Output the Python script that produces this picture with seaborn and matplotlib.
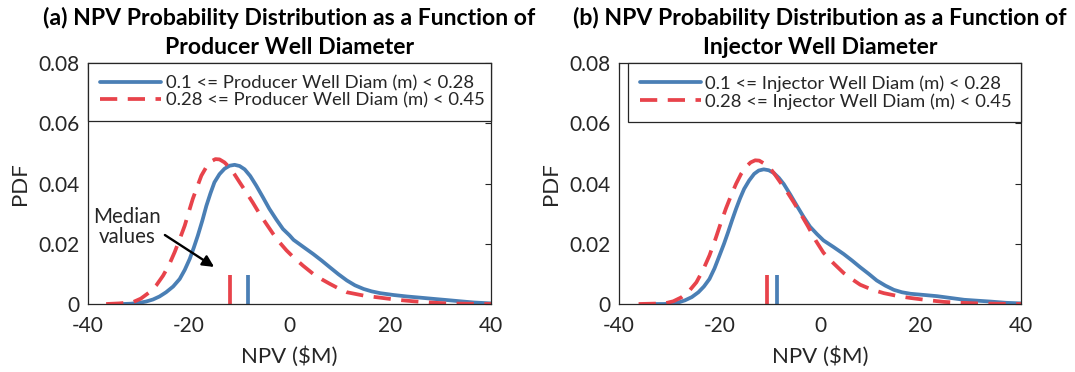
import numpy as np
import pandas as pd
import matplotlib
matplotlib.use("Agg")
import matplotlib.pyplot as plt
import seaborn as sns

# ---------------- data ----------------
prod_small_x = [-33.1, -31.5, -29.8, -28.5, -27.1, -25.8, -24.5, -23.1, -21.8, -20.8, -19.8, -19.0,
                -18.2, -17.3, -16.5, -15.7, -14.9, -13.9, -12.9, -11.9, -10.9, -9.9, -8.9, -7.8,
                -6.6, -5.3, -4.0, -2.6, -1.3, 0.0, 0.8, 2.7, 4.7, 6.4, 8.0, 9.7, 11.4, 13.0, 14.7,
                16.3, 18.0, 20.6, 23.3, 26.0, 28.6, 31.3, 33.9, 36.6, 40.0]
prod_small_y = [0.0, 0.0001, 0.0004, 0.0008, 0.0015, 0.0025, 0.0039, 0.0058, 0.0083, 0.0113, 0.0150,
                0.0187, 0.0227, 0.0277, 0.0326, 0.0367, 0.0404, 0.0431, 0.0449, 0.0459, 0.0462,
                0.0458, 0.0447, 0.0425, 0.0393, 0.0355, 0.0316, 0.0280, 0.0249, 0.0228, 0.0213,
                0.0190, 0.0166, 0.0144, 0.0122, 0.0099, 0.0078, 0.0062, 0.0050, 0.0042, 0.0036,
                0.0030, 0.0025, 0.0021, 0.0017, 0.0013, 0.0009, 0.0005, 0.0002]
prod_large_x = [-36.4, -33.8, -31.1, -29.5, -27.8, -26.4, -25.1, -23.9, -22.8, -21.8, -20.8, -20.0,
                -19.2, -18.3, -17.5, -16.5, -15.5, -14.7, -13.9, -12.9, -11.9, -10.9, -9.9, -8.6,
                -7.3, -6.0, -4.6, -3.3, -2.0, -0.6, 0.8, 2.7, 4.7, 6.4, 8.0, 9.7, 11.4, 14.7, 18.0,
                21.3, 24.6, 27.9, 31.2, 35.0, 40.0]
prod_large_y = [0.0, 0.0002, 0.0006, 0.0018, 0.0039, 0.0063, 0.0094, 0.0130, 0.0172, 0.0215, 0.0260,
                0.0305, 0.0349, 0.0390, 0.0426, 0.0455, 0.0474, 0.0481, 0.0480, 0.0470, 0.0453,
                0.0430, 0.0404, 0.0371, 0.0337, 0.0301, 0.0266, 0.0234, 0.0205, 0.0178, 0.0155,
                0.0127, 0.0100, 0.0082, 0.0067, 0.0052, 0.0039, 0.0028, 0.0021, 0.0014, 0.0009,
                0.0005, 0.0002, 0.0001, 0.0]

inj_small_x = [-32.8, -31.2, -29.5, -28.2, -26.9, -25.5, -24.2, -23.1, -22.0, -21.0, -20.0, -19.1,
               -18.3, -17.5, -16.7, -15.9, -15.1, -14.1, -13.1, -12.2, -11.2, -10.2, -9.2, -8.2,
               -7.2, -5.9, -4.6, -3.3, -2.0, -0.6, 0.7, 2.7, 4.7, 6.4, 8.0, 9.7, 11.3, 13.0, 14.7,
               16.3, 18.0, 20.7, 23.3, 26.0, 28.7, 31.3, 34.0, 37.0, 40.0]
inj_small_y = [0.0, 0.0, 0.0001, 0.0005, 0.0012, 0.0023, 0.0039, 0.0058, 0.0083, 0.0118, 0.0161,
               0.0200, 0.0238, 0.0278, 0.0316, 0.0351, 0.0382, 0.0410, 0.0432, 0.0443, 0.0447,
               0.0444, 0.0435, 0.0419, 0.0398, 0.0363, 0.0326, 0.0290, 0.0257, 0.0232, 0.0211,
               0.0189, 0.0166, 0.0144, 0.0122, 0.0100, 0.0078, 0.0061, 0.0047, 0.0039, 0.0034,
               0.0030, 0.0026, 0.0020, 0.0014, 0.0011, 0.0008, 0.0004, 0.0002]
inj_large_x = [-36.1, -33.5, -30.9, -29.2, -27.6, -26.1, -24.6, -23.3, -22.0, -20.8, -19.7, -18.7,
               -17.7, -16.7, -15.7, -14.7, -13.8, -12.9, -12.1, -11.0, -9.8, -8.9, -7.9, -6.5,
               -5.2, -3.8, -2.4, -0.9, 0.7, 2.7, 4.7, 6.4, 8.0, 10.3, 12.7, 15.3, 18.0, 21.3,
               24.7, 28.0, 31.3, 35.0, 40.0]
inj_large_y = [0.0, 0.0001, 0.0002, 0.0009, 0.0022, 0.0042, 0.0072, 0.0112, 0.0161, 0.0216, 0.0271,
               0.0318, 0.0360, 0.0399, 0.0432, 0.0456, 0.0470, 0.0477, 0.0476, 0.0465, 0.0448,
               0.0428, 0.0404, 0.0371, 0.0337, 0.0298, 0.0258, 0.0212, 0.0170, 0.0135, 0.0103,
               0.0082, 0.0064, 0.0048, 0.0036, 0.0027, 0.0020, 0.0013, 0.0007, 0.0004, 0.0002,
               0.0001, 0.0]

medians_prod = [-8.3, -11.9]   # small-diameter, large-diameter
medians_inj = [-8.5, -10.5]

labels_prod = ["0.1 <= Producer Well Diam (m) < 0.28", "0.28 <= Producer Well Diam (m) < 0.45"]
labels_inj = ["0.1 <= Injector Well Diam (m) < 0.28", "0.28 <= Injector Well Diam (m) < 0.45"]
titles_line1 = ["(a) NPV Probability Distribution as a Function of",
                "(b) NPV Probability Distribution as a Function of"]
titles_line2 = ["Producer Well Diameter", "Injector Well Diameter"]
x_ticks = [-40, -20, 0, 20, 40]
y_ticks = [0, 0.02, 0.04, 0.06, 0.08]
y_tick_labels = ["0", "0.02", "0.04", "0.06", "0.08"]

# ---------------- style ----------------
sns.set_style("white")
plt.rcParams["font.family"] = ["Lato", "DejaVu Sans"]
BLUE = "#4A7FB5"
RED = "#E8434B"
DARK = "#262626"
LW = 2.7

fig = plt.figure(figsize=(10.75, 3.72), dpi=100)
ax1 = fig.add_axes([88 / 1075, 68 / 372, 403 / 1075, 241 / 372])
ax2 = fig.add_axes([619 / 1075, 68 / 372, 402 / 1075, 241 / 372])

panels = [
    (ax1, prod_small_x, prod_small_y, prod_large_x, prod_large_y, medians_prod, labels_prod,
     titles_line1[0], titles_line2[0], 0.0),
    (ax2, inj_small_x, inj_small_y, inj_large_x, inj_large_y, medians_inj, labels_inj,
     titles_line1[1], titles_line2[1], 0.022),
]

for ax, sx, sy, lx, ly, med, labs, t1, t2, lg_x0 in panels:
    df_s = pd.DataFrame({"NPV": sx, "PDF": sy})
    df_l = pd.DataFrame({"NPV": lx, "PDF": ly})
    sns.lineplot(data=df_s, x="NPV", y="PDF", ax=ax, color=BLUE, linewidth=LW, label=labs[0],
                 sort=False, solid_joinstyle="round")
    sns.lineplot(data=df_l, x="NPV", y="PDF", ax=ax, color=RED, linewidth=LW, label=labs[1],
                 sort=False, linestyle=(0, (4.6, 2.8)))
    ax.vlines(med[0], 0, 0.0096, color=BLUE, lw=LW)
    ax.vlines(med[1], 0, 0.0096, color=RED, lw=LW)

    ax.set_xlim(-40, 40)
    ax.set_ylim(0, 0.08)
    ax.set_xticks(x_ticks)
    ax.set_xticklabels([str(t) for t in x_ticks])
    ax.set_yticks(y_ticks)
    ax.set_yticklabels(y_tick_labels)
    ax.tick_params(direction="in", top=True, right=True, length=4.5, width=0.8,
                   colors=DARK, labelsize=15, pad=6)
    ax.tick_params(axis="x", pad=9)
    for sp in ax.spines.values():
        sp.set_color(DARK)
        sp.set_linewidth(0.9)
    ax.set_xlabel("NPV ($M)", fontsize=16, color=DARK, labelpad=7)
    ax.set_ylabel("PDF", fontsize=16, color=DARK, labelpad=6)

    # two-line bold title
    ax.text(0.5, 1 + 45 / 241, t1, transform=ax.transAxes, ha="center", va="center",
            fontsize=16.6, fontweight="bold", color="black")
    ax.text(0.5, 1 + 15 / 241, t2, transform=ax.transAxes, ha="center", va="center",
            fontsize=16.6, fontweight="bold", color="black")

    leg = ax.legend(loc="upper left", bbox_to_anchor=(lg_x0, 0.0, 1.0 - lg_x0, 1.0), mode="expand",
                    borderaxespad=0.0, fontsize=13.3, frameon=True, fancybox=False,
                    edgecolor=DARK, framealpha=1.0, handlelength=3.3, handletextpad=0.25,
                    labelspacing=0.08, borderpad=0.65)
    leg.get_frame().set_linewidth(0.9)
    for t in leg.get_texts():
        t.set_color(DARK)

# annotation on the left panel
ax1.text(-32.2, 0.0254, "Median\nvalues", ha="center", va="center", fontsize=14.8, color=DARK,
         linespacing=1.0)
ax1.annotate("", xy=(-14.5, 0.0118), xytext=(-25.2, 0.0234),
             arrowprops=dict(arrowstyle="-|>", color="black", lw=1.7, mutation_scale=17))

fig.savefig("out.png", dpi=100)
